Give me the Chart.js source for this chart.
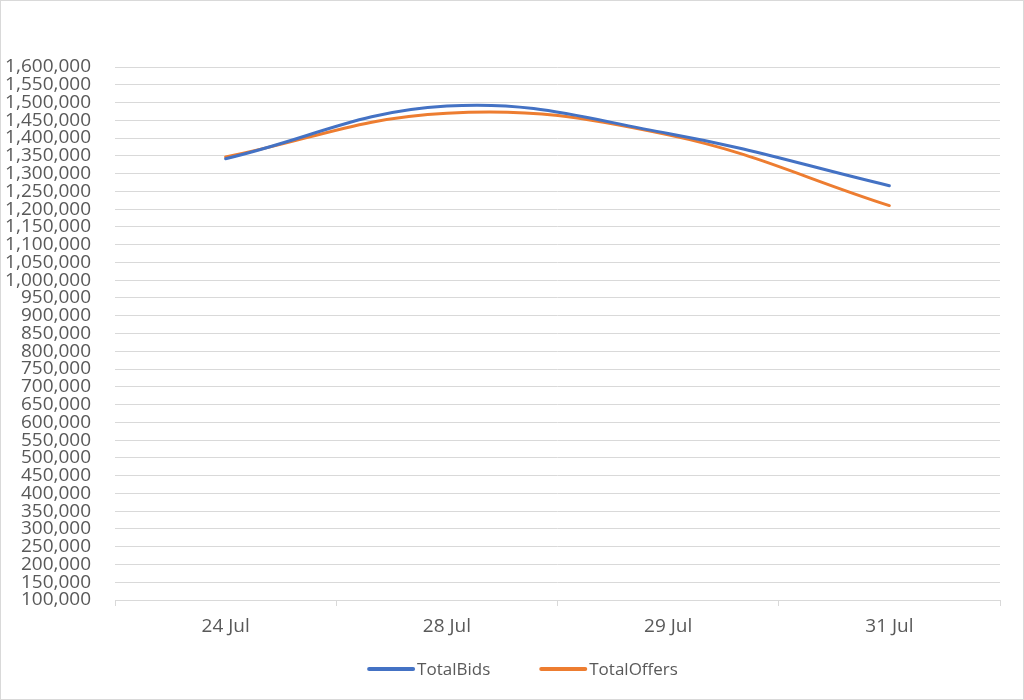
<!DOCTYPE html>
<html>
<head>
<meta charset="utf-8">
<script src="https://cdn.jsdelivr.net/npm/chart.js@4/dist/chart.umd.min.js"></script>
<style>
html,body{margin:0;padding:0;background:#fff;}
#wrap{width:1024px;height:700px;position:relative;}
</style>
</head>
<body>
<div id="wrap"><canvas id="c" width="1024" height="700"></canvas></div>
<script>
const categories = ["24 Jul", "28 Jul", "29 Jul", "31 Jul"];
const totalBids = [1342000, 1490000, 1413000, 1266000];
const totalOffers = [1347000, 1470000, 1409000, 1210000];
const yMin = 100000;
const yMax = 1600000;
const yStep = 50000;

const borderPlugin = {
  id: 'outerBorder',
  beforeDraw(chart) {
    const ctx = chart.ctx;
    ctx.save();
    ctx.fillStyle = '#ffffff';
    ctx.fillRect(0, 0, chart.width, chart.height);
    ctx.strokeStyle = '#d9d9d9';
    ctx.lineWidth = 1;
    ctx.strokeRect(0.5, 0.5, chart.width - 1, chart.height - 1);
    ctx.restore();
  }
};

// Bottom legend drawn on the canvas with Excel-like spacing
const bottomLegend = {
  id: 'bottomLegend',
  afterDraw(chart, args, opts) {
    const ctx = chart.ctx;
    const ds = chart.data.datasets;
    ctx.save();
    ctx.font = opts.size + 'px ' + opts.family;
    ctx.textBaseline = 'middle';
    ctx.textAlign = 'left';
    const lineLen = opts.lineLen, gapText = opts.gapText, gapItem = opts.gapItem;
    const widths = ds.map(d => lineLen + gapText + ctx.measureText(d.label).width);
    const total = widths.reduce((a, b) => a + b, 0) + gapItem * (ds.length - 1);
    let x = opts.centerX - total / 2;
    const y = opts.y;
    ds.forEach((d, i) => {
      ctx.strokeStyle = d.borderColor;
      ctx.lineWidth = 4;
      ctx.lineCap = 'round';
      ctx.beginPath();
      ctx.moveTo(x + 1, y);
      ctx.lineTo(x + lineLen - 1, y);
      ctx.stroke();
      ctx.fillStyle = opts.color;
      ctx.fillText(d.label, x + lineLen + gapText, y + 1);
      x += widths[i] + gapItem;
    });
    ctx.restore();
  }
};

new Chart(document.getElementById('c'), {
  type: 'line',
  data: {
    labels: categories,
    datasets: [
      { label: 'TotalBids', data: totalBids, borderColor: '#4472C4', backgroundColor: '#4472C4',
        borderWidth: 3, pointRadius: 0, tension: 0.4, fill: false, borderCapStyle: 'round' },
      { label: 'TotalOffers', data: totalOffers, borderColor: '#ED7D31', backgroundColor: '#ED7D31',
        borderWidth: 3, pointRadius: 0, tension: 0.4, fill: false, borderCapStyle: 'round' }
    ]
  },
  options: {
    responsive: false,
    animation: false,
    devicePixelRatio: 1,
    layout: { padding: { top: 67, right: 24, bottom: 59, left: 0 } },
    plugins: {
      tooltip: { enabled: false },
      legend: { display: false },
      bottomLegend: { family: 'Open Sans', size: 17, color: '#595959', lineLen: 46, gapText: 3, gapItem: 50, centerX: 523, y: 669 }
    },
    scales: {
      x: {
        offset: true,
        grid: { display: true, drawOnChartArea: false, drawTicks: true, tickLength: 6, offset: true, color: '#d9d9d9' },
        border: { display: true, color: '#d9d9d9' },
        ticks: { color: '#595959', font: { family: 'Open Sans', size: 19 }, padding: 9, maxRotation: 0 },
        afterFit(s) { s.height = 41; }
      },
      y: {
        min: yMin, max: yMax,
        grid: { color: '#d9d9d9', drawTicks: false },
        border: { display: false },
        ticks: {
          stepSize: yStep, autoSkip: false, padding: 24,
          color: '#595959', font: { family: 'Open Sans', size: 19 },
          callback: v => v.toLocaleString('en-US')
        },
        afterFit(s) { s.width = 115; }
      }
    }
  },
  plugins: [borderPlugin, bottomLegend]
});
</script>
</body>
</html>
